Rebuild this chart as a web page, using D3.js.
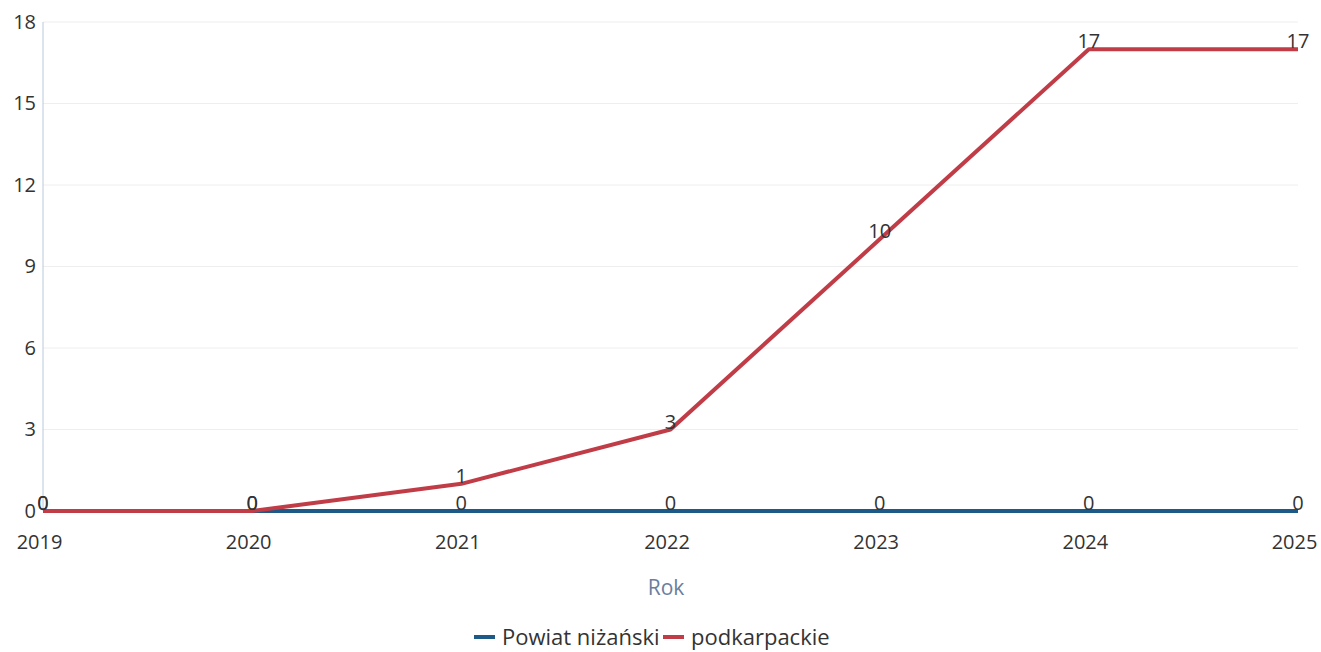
<!DOCTYPE html>
<html><head><meta charset="utf-8">
<script src="https://cdn.jsdelivr.net/npm/d3@7"></script>
<style>
html,body{margin:0;padding:0;background:#fff;}
text{font-family:"Open Sans",sans-serif;}
</style></head>
<body>
<svg id="c" width="1321" height="652"></svg>
<script>
const years = [2019, 2020, 2021, 2022, 2023, 2024, 2025];
const powiatValues = [0, 0, 0, 0, 0, 0, 0];
const podkarpackieValues = [0, 0, 1, 3, 10, 17, 17];
const yTicks = [0, 3, 6, 9, 12, 15, 18];
const seriesNames = ["Powiat niżański", "podkarpackie"];
const seriesColors = ["#1d5a87", "#c03c47"];
const axisTitle = "Rok";

const svg = d3.select("#c");
const m = {left: 43, right: 1298, top: 22, bottom: 511};
const x = d3.scalePoint().domain(years).range([m.left, m.right]);
const y = d3.scaleLinear().domain([0, 18]).range([m.bottom, m.top]);

// gridlines
svg.append("g").selectAll("line").data(yTicks.filter(t => t > 0)).join("line")
  .attr("x1", m.left).attr("x2", m.right)
  .attr("y1", d => y(d)).attr("y2", d => y(d))
  .attr("stroke", "#eeeeee").attr("stroke-width", 1);

// y axis line
svg.append("line").attr("x1", m.left).attr("x2", m.left)
  .attr("y1", m.top).attr("y2", m.bottom)
  .attr("stroke", "#b8c8dc").attr("stroke-width", 1);

// y axis labels
const yAxis = d3.axisLeft(y).tickValues(yTicks).tickSize(0).tickPadding(7);
const gy = svg.append("g").attr("transform", `translate(${m.left},0)`).call(yAxis);
gy.select(".domain").remove();
gy.selectAll("text").attr("font-size", 20).attr("fill", "#333").attr("font-family", "'Open Sans',sans-serif");

// x axis labels
const xAxis = d3.axisBottom(x).tickSize(0).tickPadding(24);
const gx = svg.append("g").attr("transform", `translate(-4,${m.bottom})`).call(xAxis);
gx.select(".domain").remove();
gx.selectAll("text").attr("font-size", 20).attr("fill", "#333").attr("font-family", "'Open Sans',sans-serif");

svg.append("text").attr("x", 666).attr("y", 595)
  .attr("text-anchor", "middle").attr("font-size", 21).attr("fill", "#6a7e9e").text(axisTitle);

const line = d3.line().x((d, i) => x(years[i])).y(d => y(d));
const series = [powiatValues, podkarpackieValues];
series.forEach((vals, si) => {
  svg.append("path").datum(vals).attr("d", line)
    .attr("fill", "none").attr("stroke", seriesColors[si]).attr("stroke-width", 4)
    .attr("stroke-linejoin", "round");
});
series.forEach((vals, si) => {
  svg.append("g").selectAll("text").data(vals).join("text")
    .attr("x", (d, i) => x(years[i]))
    .attr("y", d => y(d) - 1)
    .attr("text-anchor", "middle").attr("font-size", 20).attr("fill", "#333")
    .text(d => d);
});

// legend
const lg = svg.append("g");
const items = [{n: seriesNames[0], c: seriesColors[0], x: 474}, {n: seriesNames[1], c: seriesColors[1], x: 663}];
items.forEach(it => {
  lg.append("line").attr("x1", it.x).attr("x2", it.x + 21).attr("y1", 637).attr("y2", 637)
    .attr("stroke", it.c).attr("stroke-width", 4);
  lg.append("text").attr("x", it.x + 28).attr("y", 645).attr("font-size", 22).attr("fill", "#333").text(it.n);
});
</script>
</body></html>
